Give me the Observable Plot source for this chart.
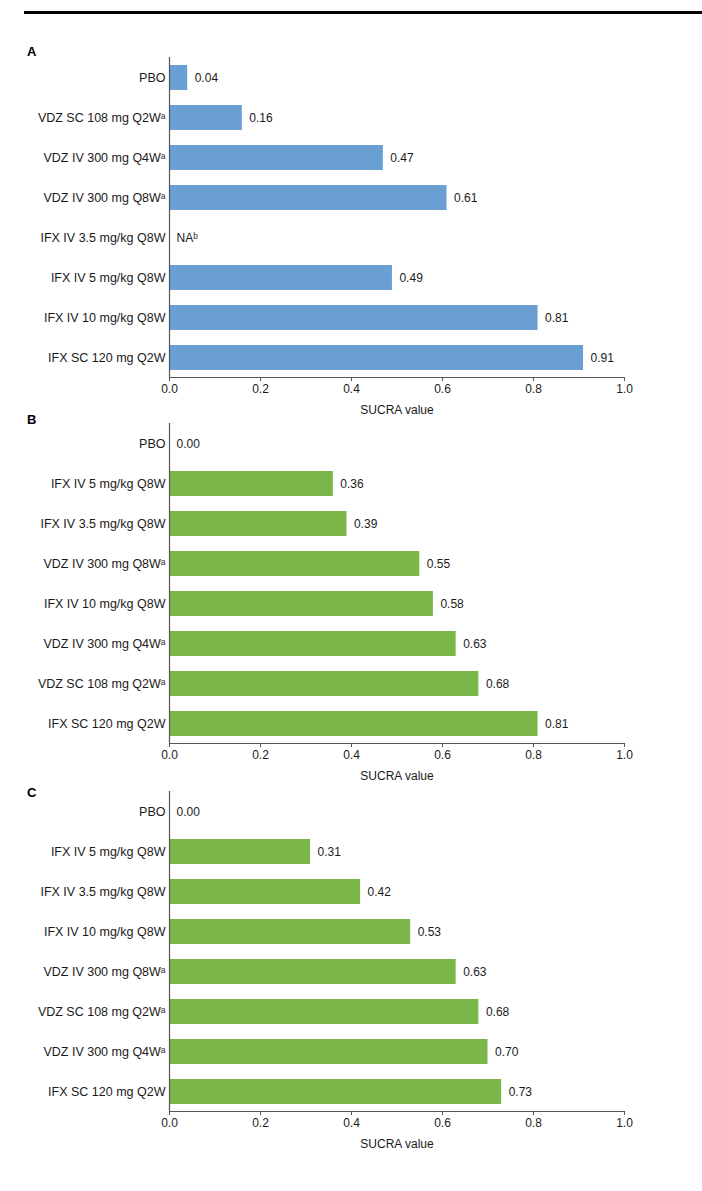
<!DOCTYPE html>
<html>
<head>
<meta charset="utf-8">
<script src="https://cdn.jsdelivr.net/npm/d3@7"></script>
<script src="https://cdn.jsdelivr.net/npm/@observablehq/plot@0.6"></script>
<style>
  body { margin: 0; background: #fff; font-family: "Liberation Sans", Arial, sans-serif; }
  #page { position: relative; width: 702px; height: 1191px; overflow: hidden; }
  .rule { position: absolute; left: 24px; right: 0; top: 11px; height: 3px; background: #000; }
  .panel { position: absolute; left: 0; }
  .letter { position: absolute; font-weight: bold; font-size: 13px; line-height: 13px; color: #000; }
</style>
</head>
<body>
<div id="page"><div class="rule"></div></div>
<script>
// Panel A – blue bars
const catsA = [
  "PBO",
  "VDZ SC 108 mg Q2Wᵃ",
  "VDZ IV 300 mg Q4Wᵃ",
  "VDZ IV 300 mg Q8Wᵃ",
  "IFX IV 3.5 mg/kg Q8W",
  "IFX IV 5 mg/kg Q8W",
  "IFX IV 10 mg/kg Q8W",
  "IFX SC 120 mg Q2W"
];
const valsA = [0.04, 0.16, 0.47, 0.61, null, 0.49, 0.81, 0.91];

// Panel B – green bars
const catsB = [
  "PBO",
  "IFX IV 5 mg/kg Q8W",
  "IFX IV 3.5 mg/kg Q8W",
  "VDZ IV 300 mg Q8Wᵃ",
  "IFX IV 10 mg/kg Q8W",
  "VDZ IV 300 mg Q4Wᵃ",
  "VDZ SC 108 mg Q2Wᵃ",
  "IFX SC 120 mg Q2W"
];
const valsB = [0.00, 0.36, 0.39, 0.55, 0.58, 0.63, 0.68, 0.81];

// Panel C – green bars
const catsC = [
  "PBO",
  "IFX IV 5 mg/kg Q8W",
  "IFX IV 3.5 mg/kg Q8W",
  "IFX IV 10 mg/kg Q8W",
  "VDZ IV 300 mg Q8Wᵃ",
  "VDZ SC 108 mg Q2Wᵃ",
  "VDZ IV 300 mg Q4Wᵃ",
  "IFX SC 120 mg Q2W"
];
const valsC = [0.00, 0.31, 0.42, 0.53, 0.63, 0.68, 0.70, 0.73];

const xTicks = [0, 0.2, 0.4, 0.6, 0.8, 1.0];
const missingLabel = "NAᵇ";

const panels = [
  { letter: "A", letterY: 45,  plotTop: 57,  cats: catsA, vals: valsA, color: "#6a9fd4" },
  { letter: "B", letterY: 413, plotTop: 423, cats: catsB, vals: valsB, color: "#7ab648" },
  { letter: "C", letterY: 786, plotTop: 791, cats: catsC, vals: valsC, color: "#7ab648" }
];

const page = document.getElementById("page");
const fmt = d3.format(".2f");
const mTop = 17, mBottom = 45, inner = 320;

for (const p of panels) {
  const rows = p.cats.map((c, i) => ({
    cat: c,
    value: p.vals[i],
    label: p.vals[i] == null ? missingLabel : fmt(p.vals[i])
  }));

  const chart = Plot.plot({
    width: 702,
    height: mTop + inner + mBottom,
    marginLeft: 169,
    marginRight: 78,
    marginTop: mTop,
    marginBottom: mBottom,
    style: {
      fontFamily: '"Liberation Sans", Arial, sans-serif',
      fontSize: "12px",
      color: "#1a1a1a",
      background: "transparent",
      overflow: "visible"
    },
    x: { domain: [0, 1] },
    y: { domain: p.cats, paddingInner: 0.375, paddingOuter: 0.1875 },
    marks: [
      Plot.barX(rows.filter(d => d.value != null), { x: "value", y: "cat", fill: p.color }),
      Plot.text(rows, {
        x: d => d.value ?? 0, y: "cat", text: "label",
        textAnchor: "start", dx: 7, fontSize: 12, fill: "#1a1a1a"
      }),
      Plot.axisY({ tickSize: 0, tickPadding: 4, label: null, fontSize: 12.5, fill: "#1a1a1a" }),
      Plot.ruleX([0], { stroke: "#555", strokeWidth: 1.2 }),
      Plot.frame({ anchor: "bottom", stroke: "#555", strokeWidth: 1.2 }),
      Plot.axisX({
        ticks: xTicks, tickFormat: ".1f", tickSize: 4, tickPadding: 3,
        stroke: "#555", fontSize: 12,
        label: "SUCRA value", labelAnchor: "center", labelArrow: "none", labelOffset: 36
      })
    ]
  });

  const wrap = document.createElement("div");
  wrap.className = "panel";
  wrap.style.top = (p.plotTop - mTop) + "px";
  wrap.appendChild(chart);
  page.appendChild(wrap);

  const letter = document.createElement("div");
  letter.className = "letter";
  letter.textContent = p.letter;
  letter.style.left = "27px";
  letter.style.top = p.letterY + "px";
  page.appendChild(letter);
}
</script>
</body>
</html>
